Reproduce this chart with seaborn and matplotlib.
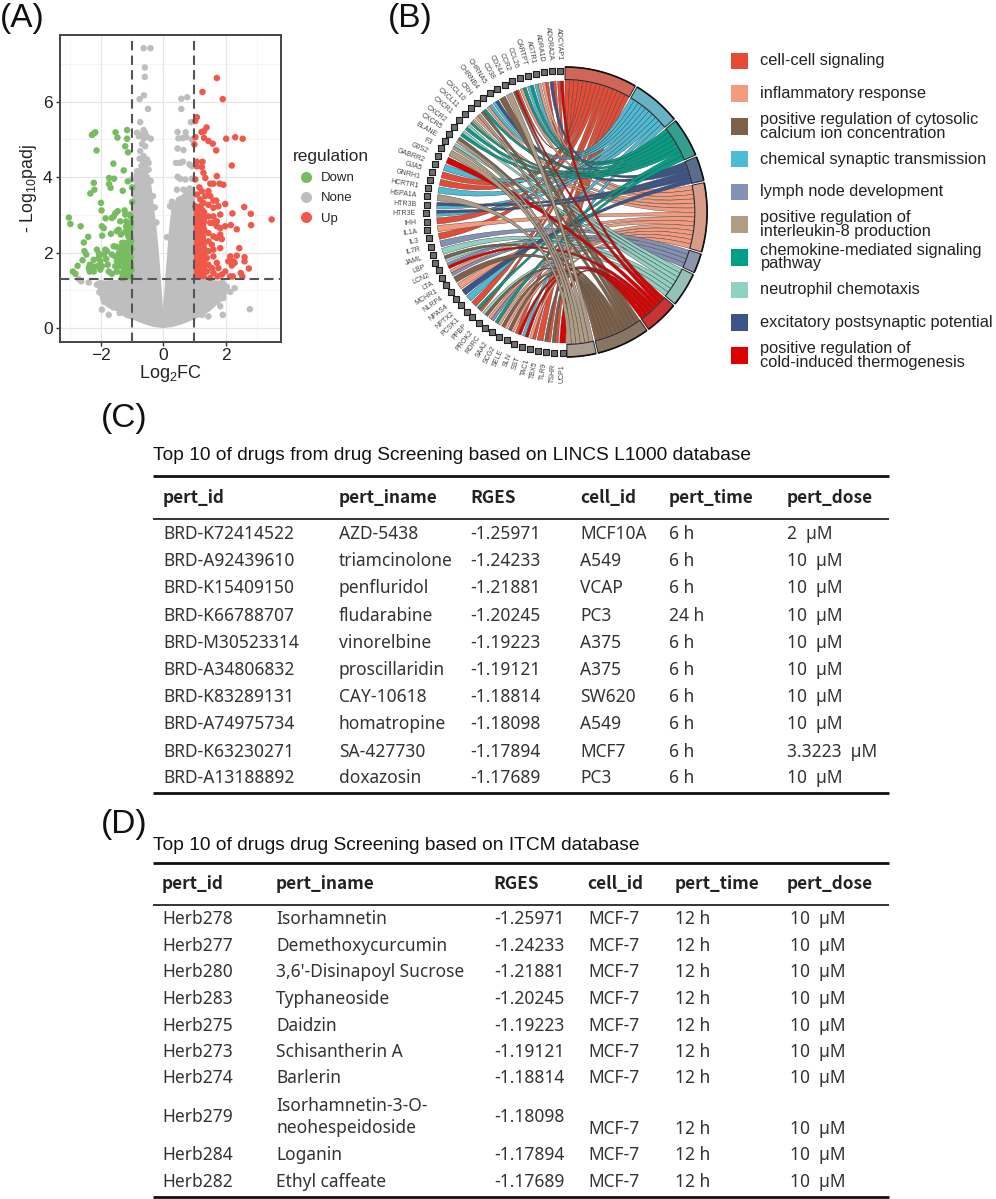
import numpy as np
import pandas as pd
import matplotlib
matplotlib.use('Agg')
import matplotlib.pyplot as plt
from matplotlib.path import Path
from matplotlib.patches import PathPatch, Polygon, Rectangle
from matplotlib.colors import to_rgb
import seaborn as sns

# volcano points
down_x = [-3.03, -2.98, -2.65, -2.41, -2.55, -2.53, -2.59, -2.47, -2.75, -2.90, -2.82, -2.23, -2.29, -2.18, -2.14, -1.53,
          -1.47, -1.16, -1.16, -1.22, -1.13, -1.60, -1.27, -1.74, -1.58, -1.14, -2.23, -2.34, -2.21, -1.74, -1.69, -1.30,
          -1.00, -2.00, -1.98, -1.00, -1.24, -1.46, -1.54, -1.59, -1.65, -1.85, -1.22, -1.08, -1.04, -1.38, -1.19, -1.97,
          -1.91, -1.68, -1.96, -1.43, -1.49, -1.36, -1.19, -1.08, -1.14, -1.06, -1.32, -1.25, -1.11, -1.06, -1.59, -1.49,
          -1.38, -1.19, -1.08, -2.13, -1.86, -1.81, -2.06, -1.91, -1.65, -1.54, -1.42, -1.27, -1.16, -1.04, -2.23, -2.07,
          -2.02, -1.83, -1.49, -1.36, -1.25, -1.11, -2.36, -2.28, -2.13, -1.97, -1.78, -1.54, -1.43, -1.27, -1.13, -1.04,
          -2.36, -2.23, -2.02, -1.75, -1.65, -1.49, -1.32, -1.19, -1.06, -1.25, -1.16, -1.04, -2.39, -1.32, -1.03, -1.10,
          -1.03, -1.18, -1.08, -1.02, -1.15, -1.05, -1.20, -1.08, -1.15, -1.02, -1.28, -1.24, -1.40, -1.30, -1.12, -1.22, -1.05]
down_y = [2.93, 2.76, 2.70, 2.42, 2.27, 2.04, 1.80, 1.95, 1.65, 1.50, 1.44, 5.16, 5.12, 5.19, 4.71, 5.19,
          5.05, 5.25, 5.02, 4.82, 4.66, 4.36, 4.18, 3.98, 3.96, 3.89, 3.85, 3.57, 3.67, 3.82, 3.72, 3.64,
          3.73, 3.32, 3.12, 3.34, 3.12, 3.10, 3.04, 2.96, 2.92, 2.91, 3.01, 3.01, 2.96, 2.83, 2.83, 2.70,
          2.65, 2.50, 2.45, 2.61, 2.57, 2.48, 2.70, 2.61, 2.48, 2.39, 2.26, 2.26, 2.26, 2.21, 2.17, 2.15,
          2.12, 2.12, 2.08, 2.08, 2.08, 2.04, 1.97, 1.95, 1.95, 1.90, 1.99, 1.99, 1.95, 1.88, 1.81, 1.86,
          1.77, 1.83, 1.77, 1.77, 1.73, 1.77, 1.68, 1.64, 1.64, 1.64, 1.68, 1.64, 1.64, 1.59, 1.64, 1.64,
          1.50, 1.50, 1.55, 1.50, 1.44, 1.50, 1.46, 1.50, 1.50, 1.35, 1.37, 1.37, 1.59, 1.33, 2.80, 2.40,
          2.30, 2.00, 1.90, 2.10, 1.85, 1.72, 1.60, 1.48, 1.42, 1.55, 1.88, 2.00, 1.90, 2.15, 2.55, 2.55, 2.70]

up_x = [1.72, 1.26, 1.91, 1.08, 1.03, 1.39, 1.31, 1.23, 1.03, 1.31, 1.45, 1.59, 1.00, 1.70, 2.02, 2.31, 2.55, 2.20, 1.08, 1.26,
        1.08, 1.24, 1.29, 1.35, 1.72, 1.03, 1.16, 1.51, 1.61, 1.81, 1.93, 1.24, 1.45, 1.08, 1.35, 1.51, 1.19, 1.61, 1.70, 1.99,
        1.29, 1.45, 1.77, 2.60, 1.03, 1.19, 1.61, 2.22, 2.81, 3.48, 2.82, 2.17, 2.36, 1.83, 1.61, 1.45, 1.72, 1.99, 1.83, 1.72,
        1.31, 1.51, 1.61, 1.31, 1.45, 1.83, 1.61, 1.72, 1.88, 1.45, 1.29, 1.56, 1.31, 1.45, 1.61, 1.83, 2.44, 1.61, 1.40, 2.15,
        2.36, 2.61, 2.61, 2.25, 2.09, 2.20, 2.29, 2.75, 1.72, 1.45, 1.29, 1.56, 1.77, 1.99, 1.88, 1.40, 1.61, 1.74, 2.15, 2.23,
        2.49, 2.54, 1.51, 1.29]
up_y = [6.63, 6.26, 6.07, 5.59, 5.49, 5.32, 5.22, 5.20, 5.06, 5.04, 4.96, 4.89, 4.87, 4.71, 5.02, 5.06, 5.02, 4.31, 4.41, 4.41,
        4.29, 4.27, 4.12, 3.98, 4.03, 3.94, 3.73, 3.83, 3.83, 3.83, 3.80, 3.63, 3.63, 3.54, 3.50, 3.50, 3.41, 3.38, 3.38, 3.29,
        3.32, 3.27, 3.23, 3.21, 3.23, 3.23, 3.19, 3.04, 3.03, 2.88, 2.73, 2.73, 2.62, 3.01, 2.96, 2.96, 2.83, 2.70, 2.65, 2.70,
        2.83, 2.79, 2.79, 2.61, 2.52, 2.48, 2.43, 2.39, 2.36, 2.30, 2.26, 2.21, 2.08, 2.04, 2.08, 2.12, 2.12, 1.90, 1.86, 1.90,
        1.92, 1.88, 1.77, 1.77, 1.77, 1.66, 1.73, 1.58, 1.73, 1.68, 1.68, 1.59, 1.59, 1.50, 1.42, 1.50, 1.46, 1.37, 1.37, 1.37,
        1.46, 1.37, 1.33, 1.37]

none_x = [-0.63, -0.41, -0.59, -0.59, -0.62, -0.76, -0.49, -0.74, -0.84, -0.63, -0.58, -0.68, -0.79, -0.52, -0.63, -0.40,
          -0.68, -0.58, -0.74, -0.63, -0.52, -0.76, -0.65, -0.47, -0.84, -1.00, 0.77, 0.58, 0.58, 0.89, 0.46, 0.72,
          0.49, 0.63, 0.74, 0.92, 0.46, 0.65, 0.41, 0.63, 0.54, 0.84, 0.92, 0.46, 0.54, 0.71, 0.92, 0.44, 0.65, 0.81,
          0.89, 0.71, 0.54, 0.12, 0.22, -2.63, -2.39, -2.71, -1.97, -1.75, 1.91, 1.45, 2.78, 2.15, 2.29, 1.93, 1.83,
          2.04, -2.13, -0.95, -0.85, -0.70, -0.60, -0.47, -0.40, -0.33, -0.27, -0.22, 0.28, 0.30, 0.35, 0.50, 0.62,
          0.75, 0.85, -2.00, -1.90, -2.05, -1.90, -1.60, -1.40, 1.90, 1.95, 1.70, 1.40, 1.25]
none_y = [7.42, 7.42, 6.91, 6.66, 6.17, 6.07, 5.81, 5.46, 5.18, 5.25, 5.18, 5.13, 5.09, 5.07, 5.02, 5.02,
          4.88, 4.82, 4.69, 4.56, 4.47, 4.49, 4.42, 4.38, 4.16, 3.94, 6.12, 6.08, 5.81, 5.46, 5.20, 5.19,
          5.03, 5.04, 5.06, 5.00, 4.76, 4.72, 4.38, 4.41, 4.38, 4.34, 4.29, 4.01, 3.96, 3.94, 3.96, 3.67, 3.67, 3.67,
          3.50, 3.50, 3.41, 2.41, 3.23, 1.24, 1.21, 1.30, 0.49, 0.35, 0.35, 0.31, 0.50, 0.96, 1.06, 0.80, 0.58,
          1.10, 1.15, 3.70, 4.05, 4.30, 4.30, 4.20, 3.90, 3.50, 3.20, 2.80, 3.35, 3.20, 3.30, 3.40, 3.45,
          3.55, 3.70, 1.20, 1.15, 0.95, 0.70, 0.55, 0.40, 1.20, 0.95, 0.75, 0.55, 0.35]

# outlines of the saturated blobs where single dots cannot be told apart
none_core_x = [-1.03, -1.03, -0.98, -0.90, -0.75, -0.55, -0.42, -0.35, -0.28, -0.22, -0.16, -0.10, -0.05, -0.01, 0.03, 0.08,
               0.13, 0.17, 0.24, 0.28, 0.55, 0.75, 0.95, 1.03, 1.03, 2.00, 2.10, 1.95, 1.70, 1.50, 1.20, 0.90, 0.60, 0.30,
               0.00, -0.30, -0.60, -0.90, -1.20, -1.50, -1.80, -2.00, -2.10, -2.15]
none_core_y = [1.30, 2.80, 3.60, 4.00, 4.25, 4.25, 4.00, 3.60, 3.10, 2.70, 2.20, 1.60, 1.00, 0.55, 0.90, 1.50,
               2.00, 2.50, 3.00, 3.30, 3.35, 3.45, 3.75, 3.70, 1.30, 1.25, 1.00, 0.75, 0.60, 0.45, 0.30, 0.20, 0.10, 0.03,
               0.00, 0.03, 0.10, 0.20, 0.27, 0.45, 0.55, 0.70, 1.00, 1.25]
up_core_x = [0.98, 0.98, 1.25, 1.42, 1.36, 1.42, 1.40]
up_core_y = [1.30, 3.15, 3.25, 3.10, 2.50, 2.00, 1.30]

# panel B, terms clockwise from twelve o'clock, with the legend order kept apart
term_codes = ['R', 'C', 'G', 'N', 'S', 'P', 'M', 'X', 'B', 'T']
term_colors = {'R': '#E64B35', 'S': '#F39B7F', 'B': '#7E6148', 'C': '#4DBBD5', 'P': '#8491B4',
               'T': '#B09C85', 'G': '#00A087', 'M': '#91D1C2', 'N': '#3C5488', 'X': '#DC0000'}
draw_order = ['R', 'S', 'C', 'P', 'M', 'N', 'G', 'B', 'X', 'T']
legend_codes = ['R', 'S', 'B', 'C', 'P', 'T', 'G', 'M', 'N', 'X']
legend_labels = ['cell-cell signaling', 'inflammatory response',
                 'positive regulation of cytosolic\ncalcium ion concentration',
                 'chemical synaptic transmission', 'lymph node development',
                 'positive regulation of\ninterleukin-8 production',
                 'chemokine-mediated signaling\npathway', 'neutrophil chemotaxis',
                 'excitatory postsynaptic potential',
                 'positive regulation of\ncold-induced thermogenesis']
genes = ['ADCYAP1', 'ADORA2A', 'ADRA1D', 'AGTR1', 'CARTPT', 'CCL26', 'CCR2', 'CD244', 'CD38', 'CHRNA5', 'CHRNB4', 'CRH',
         'CXCL10', 'CXCL11', 'CXCR1', 'CXCR2', 'CXCR5', 'ELANE', 'F3', 'G0S2', 'GABRR2', 'GJA5', 'GNRH1', 'HCRTR1',
         'HSPA1A', 'HTR3B', 'HTR3E', 'IHH', 'IL1A', 'IL3', 'IL7R', 'JAML', 'LBP', 'LCN2', 'LTA', 'MCHR1', 'NLRP4',
         'NPAS4', 'NPTX2', 'PCSK1', 'PPBP', 'PROK2', 'RORC', 'SAA2', 'SCG2', 'SELE', 'SLN', 'SST', 'TAC1', 'TBX5',
         'TLR9', 'TSHR', 'UCP1']
gene_terms = ['RX', 'NR', 'SR', 'CS', 'CG', 'SG', 'BXR', 'T', 'B', 'CN', 'SC', 'BG',
              'ST', 'GSM', 'GM', 'GM', 'TB', 'TM', 'T', 'X', 'C', 'R', 'R', 'C',
              'T', 'CN', 'CN', 'R', 'S', 'R', 'P', 'M', 'MB', 'XP', 'PS', 'B', 'S',
              'N', 'C', 'R', 'RG', 'BM', 'PS', 'SG', 'SB', 'SB', 'XR', 'XC', 'RS', 'R',
              'RB', 'RB', 'X']

# panel C
c_title = 'Top 10 of drugs from drug Screening based on LINCS L1000 database'
c_headers = ['pert_id', 'pert_iname', 'RGES', 'cell_id', 'pert_time', 'pert_dose']
c_id = ['BRD-K72414522', 'BRD-A92439610', 'BRD-K15409150', 'BRD-K66788707', 'BRD-M30523314',
        'BRD-A34806832', 'BRD-K83289131', 'BRD-A74975734', 'BRD-K63230271', 'BRD-A13188892']
c_name = ['AZD-5438', 'triamcinolone', 'penfluridol', 'fludarabine', 'vinorelbine',
          'proscillaridin', 'CAY-10618', 'homatropine', 'SA-427730', 'doxazosin']
c_rges = ['-1.25971', '-1.24233', '-1.21881', '-1.20245', '-1.19223',
          '-1.19121', '-1.18814', '-1.18098', '-1.17894', '-1.17689']
c_cell = ['MCF10A', 'A549', 'VCAP', 'PC3', 'A375', 'A375', 'SW620', 'A549', 'MCF7', 'PC3']
c_time = ['6 h', '6 h', '6 h', '24 h', '6 h', '6 h', '6 h', '6 h', '6 h', '6 h']
c_dose = ['2  µM', '10  µM', '10  µM', '10  µM', '10  µM', '10  µM', '10  µM', '10  µM', '3.3223  µM', '10  µM']

# panel D
d_title = 'Top 10 of drugs drug Screening based on ITCM database'
d_headers = ['pert_id', 'pert_iname', 'RGES', 'cell_id', 'pert_time', 'pert_dose']
d_id = ['Herb278', 'Herb277', 'Herb280', 'Herb283', 'Herb275', 'Herb273', 'Herb274', 'Herb279', 'Herb284', 'Herb282']
d_name = ['Isorhamnetin', 'Demethoxycurcumin', "3,6'-Disinapoyl Sucrose", 'Typhaneoside', 'Daidzin', 'Schisantherin A',
          'Barlerin', 'Isorhamnetin-3-O-\nneohespeidoside', 'Loganin', 'Ethyl caffeate']
d_rges = c_rges[:6] + ['-1.18814', '-1.18098', '-1.17894', '-1.17689']
d_cell = ['MCF-7'] * 10
d_time = ['12 h'] * 10
d_dose = ['10  µM'] * 10

sns.set_theme(style='white')
plt.rcParams['font.family'] = ['Liberation Sans', 'DejaVu Sans']
plt.rcParams['mathtext.default'] = 'regular'
TABLE_FONT = ['Noto Sans', 'DejaVu Sans']
HEAD_FONT = ['Noto Sans CJK SC', 'DejaVu Sans']
BODY_SIZE = 12.5
HEAD_SIZE = 12.4

fig = plt.figure(figsize=(9.96, 11.99), dpi=100)
page = fig.add_axes([0, 0, 1, 1])
page.set_xlim(0, 996)
page.set_ylim(1199, 0)
page.axis('off')


def panel_letters():
    for label, x, y in [('(A)', 0, 18), ('(B)', 388, 18), ('(C)', 101, 419), ('(D)', 101, 824)]:
        page.text(x, y, label, fontsize=24, color='#111111', ha='left', va='center')


def draw_volcano():
    ax = fig.add_axes([59.5 / 996, 1 - 341.5 / 1199, 221.5 / 996, 306.5 / 1199])
    df = pd.concat([
        pd.DataFrame({'x': none_x, 'y': none_y, 'regulation': 'None'}),
        pd.DataFrame({'x': down_x, 'y': down_y, 'regulation': 'Down'}),
        pd.DataFrame({'x': up_x, 'y': up_y, 'regulation': 'Up'}),
    ])
    palette = {'Down': '#78BC61', 'None': '#BEBEBE', 'Up': '#F0584A'}
    ax.add_patch(Polygon(list(zip(none_core_x, none_core_y)), color=palette['None'], lw=0, zorder=1.5))
    ax.add_patch(Polygon(list(zip(up_core_x, up_core_y)), color=palette['Up'], lw=0, zorder=2.5))
    sns.scatterplot(data=df, x='x', y='y', hue='regulation', hue_order=['Down', 'None', 'Up'],
                    palette=palette, s=22, linewidth=0, ax=ax, zorder=2)
    ax.set_xlim(-3.33, 3.78)
    ax.set_ylim(-0.355, 7.77)
    ax.set_xticks([-2, 0, 2])
    ax.set_xticklabels(['\u22122', '0', '2'])
    ax.set_yticks([0, 2, 4, 6])
    ax.set_xticks([-3, -1, 1, 3], minor=True)
    ax.set_yticks([1, 3, 5, 7], minor=True)
    ax.grid(True, which='major', color='#E6E6E6', lw=0.9)
    ax.grid(True, which='minor', color='#F0F0F0', lw=0.5)
    ax.set_axisbelow(True)
    ax.tick_params(axis='both', which='major', labelsize=12.5, length=3, width=1, color='#333333',
                   labelcolor='#222222', pad=2, bottom=True, left=True)
    ax.tick_params(axis='both', which='minor', length=0)
    for spine in ax.spines.values():
        spine.set_color('#444444')
        spine.set_linewidth(1.4)
    for xv in (-1, 1):
        ax.axvline(xv, color='#555555', lw=1.5, dashes=(4.5, 2.5), zorder=4)
    ax.axhline(1.3, color='#555555', lw=1.5, dashes=(4.5, 2.5), zorder=4)
    ax.set_xlabel('Log$_2$FC', fontsize=13, color='#222222', labelpad=0)
    ax.set_ylabel('- Log$_{10}$padj', fontsize=12.8, color='#222222', labelpad=3)
    sns.move_legend(ax, 'upper left', bbox_to_anchor=(1.03, 0.645), frameon=False, title='regulation',
                    title_fontsize=12.4, fontsize=9.5, markerscale=1.7, labelspacing=0.6,
                    handletextpad=0.1, borderaxespad=0, alignment='left')


def chord_xy(theta, r):
    t = np.radians(theta)
    return 565 + 0.98 * r * np.sin(t), 212 - r * np.cos(t)


def arc_points(t0, t1, r, n=10):
    return [chord_xy(t, r) for t in np.linspace(t0, t1, n)]


def draw_chord():
    n_links = {c: sum(g.count(c) for g in gene_terms) for c in term_codes}
    gap = 0.8
    unit = (180 - gap * len(term_codes)) / sum(n_links.values())
    starts = {}
    pos = 0.0
    for c in term_codes:
        starts[c] = pos
        pos += n_links[c] * unit + gap

    gene_step = 177 / (len(genes) - 1)
    gene_width = 2.75
    used = {c: 0 for c in term_codes}
    for i, terms in enumerate(gene_terms):
        center = 358 - i * gene_step
        sub = gene_width / len(terms)
        for j, c in enumerate(terms):
            g0 = center - gene_width / 2 + j * sub
            g1 = g0 + sub
            t0 = starts[c] + used[c] * unit
            t1 = t0 + unit
            used[c] += 1
            g_pts = arc_points(g0, g1, 131)
            t_pts = arc_points(t0, t1, 132)
            verts = g_pts + [(565, 212), t_pts[0]] + t_pts[1:] + [(565, 212), g_pts[0]]
            codes = ([Path.MOVETO] + [Path.LINETO] * (len(g_pts) - 1) + [Path.CURVE3, Path.CURVE3]
                     + [Path.LINETO] * (len(t_pts) - 1) + [Path.CURVE3, Path.CURVE3])
            page.add_patch(PathPatch(Path(verts, codes), facecolor=term_colors[c], edgecolor='#444444',
                                     lw=0.3, zorder=3 + draw_order.index(c) * 0.01))

    for c in term_codes:
        t0, t1 = starts[c], starts[c] + n_links[c] * unit
        shade = 0.68 * np.array(to_rgb(term_colors[c])) + 0.32 * np.array([0.62, 0.62, 0.62])
        pts = arc_points(t0, t1, 145, 30) + arc_points(t1, t0, 132.5, 30)
        page.add_patch(Polygon(pts, closed=True, facecolor=shade, edgecolor='#222222', lw=0.7, zorder=4))
        outer = np.array(arc_points(t0, t1, 145, 30))
        page.plot(outer[:, 0], outer[:, 1], color='#111111', lw=1.2, zorder=5, solid_capstyle='butt')

    thetas = 358 - np.arange(len(genes)) * gene_step
    square_x, square_y = chord_xy(thetas, 141.5)
    sns.scatterplot(x=square_x, y=square_y, marker='s', s=24, color='#6E6E6E', edgecolor='#1E1E1E',
                    linewidth=0.8, ax=page, zorder=4, legend=False)
    for name, theta in zip(genes, thetas):
        t = np.radians(theta)
        rot = np.degrees(np.arctan2(-np.cos(t), -np.sin(t)))
        x, y = chord_xy(theta, 152)
        page.text(x, y, name, fontsize=5.0, color='#444444', rotation=rot, rotation_mode='anchor',
                  ha='right', va='center', zorder=4)

    for k, (c, label) in enumerate(zip(legend_codes, legend_labels)):
        yc = 61 + k * 32.7
        page.add_patch(Rectangle((731, yc - 8.3), 17, 16.6, facecolor=term_colors[c], edgecolor='none'))
        page.text(760.5, yc, label, fontsize=11.8, color='#222222', ha='left', va='center', linespacing=0.88)


def draw_table(title, title_y, rules, header_y, headers, header_x):
    page.text(153, title_y, title, fontsize=13.75, color='#111111', ha='left', va='center')
    for y, lw in rules:
        page.plot([153, 889], [y, y], color='#111111', lw=lw, solid_capstyle='butt')
    for name, x in zip(headers, header_x):
        page.text(x, header_y, name, family=HEAD_FONT, fontsize=HEAD_SIZE, fontweight='bold', color='#222222',
                  ha='left', va='center')


def draw_column(values, x, row_y):
    for value, y in zip(values, row_y):
        page.text(x, y, value, family=TABLE_FONT, fontsize=BODY_SIZE, color='#333333', ha='left', va='center',
                  linespacing=1.3)


panel_letters()
draw_volcano()
draw_chord()

draw_table(c_title, 456, [(476, 2.0), (519, 1.2), (793, 2.0)], 498, c_headers, [163, 339, 470, 580, 669, 787])
c_row_y = [534, 561, 588, 616, 643, 670, 697, 724, 752, 778]
for col, x in zip([c_id, c_name, c_rges, c_cell, c_time, c_dose], [163, 339, 470, 580, 669, 787]):
    draw_column(col, x, c_row_y)

draw_table(d_title, 845, [(863, 2.0), (905, 1.2), (1197, 2.0)], 884, d_headers, [162, 276, 493, 587, 675, 787])
d_row_y = [919, 946, 972, 999, 1026, 1052, 1078, 1117, 1155, 1182]
d_low_y = [919, 946, 972, 999, 1026, 1052, 1078, 1129, 1155, 1182]
for col, x in zip([d_id, d_name, d_rges], [162, 276, 494]):
    draw_column(col, x, d_row_y)
for col, x in zip([d_cell, d_time, d_dose], [588, 675, 790]):
    draw_column(col, x, d_low_y)

fig.savefig('out.png', dpi=100, facecolor='white')
